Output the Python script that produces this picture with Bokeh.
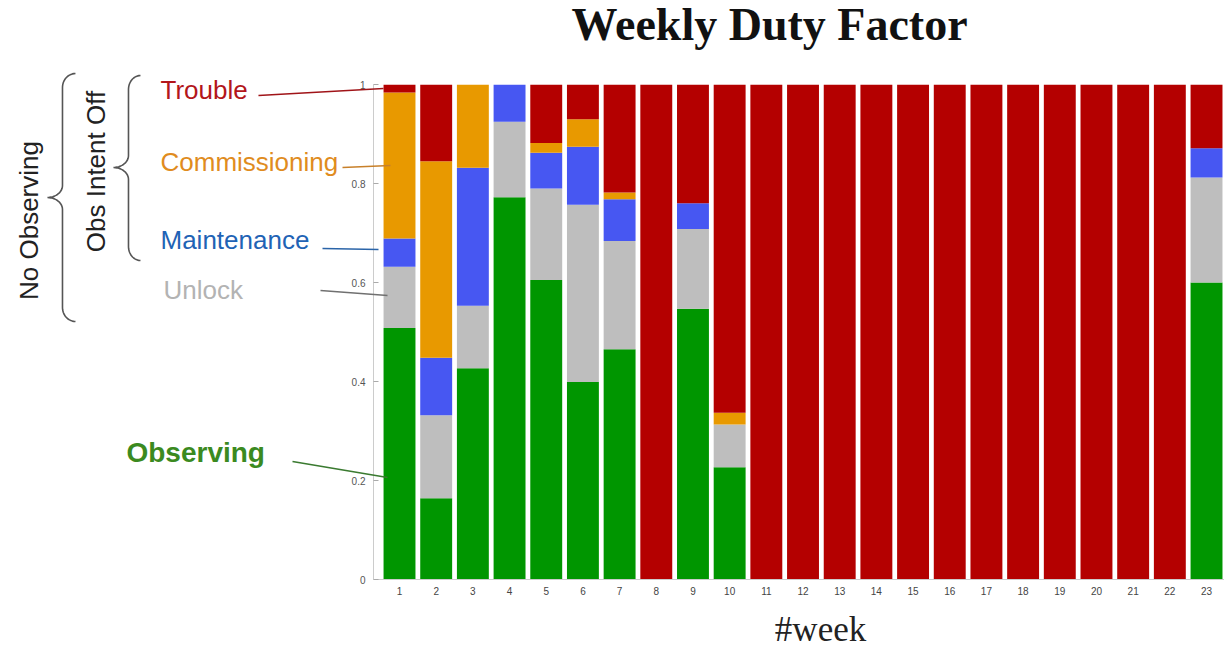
import numpy as np
from bokeh.plotting import figure
from bokeh.models import ColumnDataSource, Range1d, FixedTicker
from bokeh.core.properties import value
from bokeh.embed import file_html
from bokeh.resources import INLINE

# ---------------- data ----------------
weeks = list(range(1, 24))
week_labels = [str(w) for w in weeks]
observing     = [0.508, 0.164, 0.427, 0.772, 0.605, 0.399, 0.465, 0.0, 0.547, 0.227] + [0.0] * 12 + [0.600]
unlock        = [0.124, 0.168, 0.126, 0.153, 0.185, 0.358, 0.219, 0.0, 0.161, 0.086] + [0.0] * 12 + [0.212]
maintenance   = [0.057, 0.116, 0.279, 0.075, 0.072, 0.117, 0.084, 0.0, 0.052, 0.000] + [0.0] * 12 + [0.059]
commissioning = [0.295, 0.397, 0.168, 0.000, 0.020, 0.056, 0.014, 0.0, 0.000, 0.024] + [0.0] * 12 + [0.000]
trouble       = [0.016, 0.155, 0.000, 0.000, 0.118, 0.070, 0.218, 1.0, 0.240, 0.663] + [1.0] * 12 + [0.129]

series = ["observing", "unlock", "maintenance", "commissioning", "trouble"]
series_names = ["Observing", "Unlock", "Maintenance", "Commissioning", "Trouble"]
bar_colors = ["#009600", "#bebebe", "#4757f2", "#e89900", "#b40000"]
y_ticks = [0, 0.2, 0.4, 0.6, 0.8, 1]
y_tick_labels = ["0", "0.2", "0.4", "0.6", "0.8", "1"]

src = ColumnDataSource(dict(week=weeks, observing=observing, unlock=unlock,
                            maintenance=maintenance, commissioning=commissioning,
                            trouble=trouble))

# ---------------- figure ----------------
p = figure(width=1224, height=649, output_backend="svg", toolbar_location=None,
           x_range=Range1d(0.291, 23.49), y_range=Range1d(0, 1),
           min_border_left=373, min_border_right=0, min_border_top=84,
           min_border_bottom=70, title=None)
p.outline_line_color = None
p.grid.visible = False
p.background_fill_color = "white"
p.border_fill_color = "white"

p.vbar_stack(series, x="week", width=0.87, source=src,
             fill_color=bar_colors, line_color=None)

# axes
p.yaxis.ticker = FixedTicker(ticks=y_ticks)
p.yaxis.major_label_overrides = {t: l for t, l in zip(y_ticks, y_tick_labels)}
p.yaxis.major_tick_in = 5
p.yaxis.major_tick_out = 0
p.yaxis.minor_tick_line_color = None
p.yaxis.axis_line_color = "#cccccc"
p.yaxis.major_tick_line_color = "#aaaaaa"
p.yaxis.major_label_text_font = "Liberation Sans"
p.yaxis.major_label_text_font_size = "10px"
p.yaxis.major_label_text_color = "#555555"
p.yaxis.major_label_standoff = 8

p.xaxis.ticker = FixedTicker(ticks=weeks)
p.xaxis.major_label_overrides = {w: l for w, l in zip(weeks, week_labels)}
p.xaxis.major_tick_in = 0
p.xaxis.major_tick_out = 0
p.xaxis.minor_tick_line_color = None
p.xaxis.axis_line_color = "#cccccc"
p.xaxis.major_label_text_font = "Liberation Sans"
p.xaxis.major_label_text_font_size = "10px"
p.xaxis.major_label_text_color = "#444444"
p.xaxis.major_label_standoff = 7

# ---------------- annotations (page pixel -> data units) ----------------
def X(px):
    return 1 + (px - 399) / 36.68

def Y(py):
    return (579.0 - py) / 495.0

def label(text, px, py, color, size, style="normal", font="Liberation Sans",
          align="left", baseline="alphabetic", angle=0):
    if baseline == "alphabetic":
        py = py - 0.4 * size  # compensate renderer baseline offset
    p.text(x=[X(px)], y=[Y(py)], text=[text], text_color=color,
           text_font_size=f"{size}px", text_font_style=style,
           text_font=value(font), text_align=align, text_baseline=baseline,
           angle=angle, level="overlay")

def polyline(pts, color, width=1.5):
    p.line(x=[X(a) for a, b in pts], y=[Y(b) for a, b in pts],
           line_color=color, line_width=width, level="overlay")

def brace(xe, xs_, xt, yt, ym, yb, ry=14, ry2=12, n=14):
    rx = xe - xs_
    rx2 = xs_ - xt
    pts = []
    for t in np.linspace(-np.pi / 2, -np.pi, n):
        pts.append((xe + rx * np.cos(t), yt + ry + ry * np.sin(t)))
    for t in np.linspace(0, np.pi / 2, n):
        pts.append((xt + rx2 * np.cos(t), ym - ry2 + ry2 * np.sin(t)))
    for t in np.linspace(-np.pi / 2, 0, n):
        pts.append((xt + rx2 * np.cos(t), ym + ry2 + ry2 * np.sin(t)))
    for t in np.linspace(np.pi, np.pi / 2, n):
        pts.append((xe + rx * np.cos(t), yb - ry + ry * np.sin(t)))
    polyline(pts, "#555555", 1.6)

# title and x label
label("Weekly Duty Factor", 769, 42, "#111111", 46, "bold", "Liberation Serif", align="center")
label("#week", 820, 643, "#222222", 35, "normal", "Liberation Serif", align="center")

# category labels
label("Trouble", 160, 100, "#b3161b", 26)
label("Commissioning", 160, 172, "#e08c1e", 26)
label("Maintenance", 160, 250, "#1f63b5", 26)
label("Unlock", 163, 300, "#b3b3b3", 26)
label("Observing", 126, 463, "#3b8a1f", 28, "bold")

# leader lines
polyline([(258, 95), (383, 88)], "#a01418")
polyline([(342, 167), (390, 165)], "#c8802a")
polyline([(322, 248), (378, 249)], "#2a64a8")
polyline([(320, 290), (387, 295)], "#707070")
polyline([(292, 461), (387, 477)], "#3a7a30")

# group labels and braces
label("Obs Intent Off", 96, 171, "#222222", 26, align="center", baseline="middle", angle=np.pi / 2)
label("No Observing", 29, 220, "#222222", 26, align="center", baseline="middle", angle=np.pi / 2)
brace(140, 128, 113, 75, 167, 260)
brace(75, 62, 47, 73, 197, 321)

open("out.html", "w").write(file_html(p, INLINE))
